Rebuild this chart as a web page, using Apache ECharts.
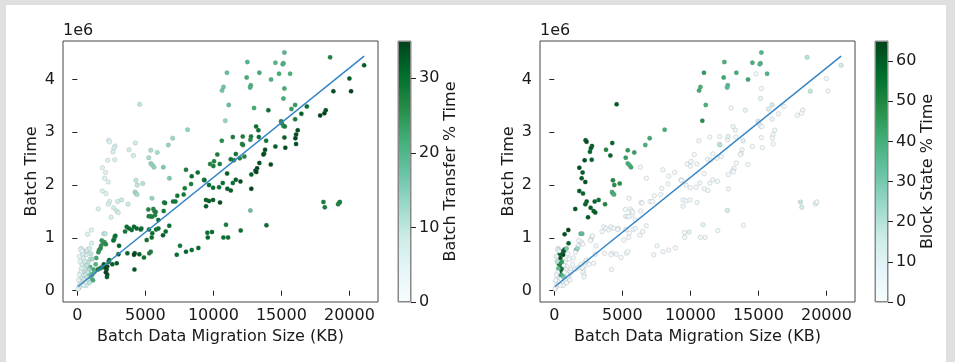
<!DOCTYPE html>
<html>
<head>
<meta charset="utf-8">
<script src="https://cdn.jsdelivr.net/npm/echarts@6/dist/echarts.min.js"></script>
<style>
  html, body { margin: 0; padding: 0; background: #e0e0e0; }
  #panel { position: absolute; left: 6px; top: 5px; width: 940px; height: 357px; background: #fff; }
  #chart { position: absolute; left: 0; top: 0; width: 955px; height: 362px; }
</style>
</head>
<body>
<div id="panel"></div>
<div id="chart"></div>
<script>
// batch data migration size (KB)
const sizeKB = [
  4580,8110,7010,6690,2300,2370,2770,2690,4260,3800,
  2620,5400,5880,5250,4120,2750,2230,5400,5520,5640,
  6320,1840,2080,2280,2010,4310,4410,4810,1840,2110,
  4240,4310,4390,3260,2970,2380,2280,3730,2670,2890,
  3010,1540,2480,1030,760,1050,1940,2050,5490,6770,
  15220,18580,12500,14560,15150,15100,11000,13380,14830,15640,
  12450,14240,20000,10740,10640,12750,12700,15220,18820,20120,
  21080,15150,11130,16010,12990,15740,16870,14040,16470,18260,
  18160,17850,10880,16010,14980,15030,15150,15250,
  16200,16080,16030,16080,15220,14560,15290,14220,13140,13310,
  13340,13880,13800,13730,13680,13380,13210,13090,13160,12790,
  12790,12720,13900,12010,10930,10740,11080,9560,9900,9590,
  7310,7550,7990,8410,8900,9460,9680,9980,10490,9460,
  11030,11280,11650,11990,11430,10690,10420,9980,11010,9320,
  9680,9760,10050,10000,10470,10290,10620,11430,11280,11500,
  11650,12110,12180,12160,12720,12770,12280,11940,7990,8410,
  8850,9340,7900,8360,7350,7820,7040,7210,6380,6450,
  5220,5590,5660,5250,5370,5710,5760,5490,5960,6350,
  4710,5270,5510,5100,5470,5790,5960,6300,6500,6760,
  4900,5290,5400,18090,18190,19170,19260,19300,
  3630,3800,4000,4170,4370,4660,3510,3070,3680,4220,
  4170,4560,4200,2900,2570,2700,2750,2800,2650,3020,
  2200,2150,2100,2200,2050,2180,1950,1800,1650,1500,
  1900,1750,1600,1550,2000,2100,1800,1700,1400,1200,
  1100,1000,1150,950,1350,900,1250,2300,2350,
  100,150,50,200,300,250,400,350,500,450,
  550,400,600,500,300,350,650,700,800,200,
  450,550,600,650,500,700,400,750,300,250,
  350,150,600,700,800,900,650,250,150,100,
  450,850,950,1000,900,1100,750,550
];
// batch time, in units of 1e6
const batchTime = [
  3.53,3.05,2.89,2.76,2.85,2.82,2.74,2.70,2.80,2.67,
  2.63,2.66,2.62,2.52,2.56,2.48,2.47,2.41,2.38,2.34,
  2.34,2.33,2.24,2.06,2.13,2.09,2.00,2.03,1.89,1.84,
  1.87,1.84,1.82,1.72,1.69,1.69,1.64,1.64,1.57,1.51,
  1.48,1.55,1.39,1.15,1.07,0.90,1.08,1.08,1.75,2.13,
  4.51,4.42,4.33,4.32,4.31,4.29,4.13,4.13,4.11,4.11,
  4.04,4.00,4.02,3.86,3.79,3.89,3.85,3.83,3.78,3.78,
  4.27,3.64,3.52,3.52,3.46,3.44,3.49,3.42,3.35,3.42,
  3.36,3.32,3.22,3.25,3.21,3.17,3.12,3.11,
  3.04,2.96,2.89,2.78,2.90,2.73,2.71,2.39,3.11,3.04,
  2.91,2.84,2.67,2.60,2.58,2.42,2.32,2.27,2.25,2.20,
  1.93,1.52,1.24,1.14,1.25,1.01,1.01,1.10,1.11,1.01,
  0.68,0.85,0.74,0.77,0.81,1.72,1.70,1.72,1.67,1.60,
  1.93,1.90,2.10,2.07,2.04,2.04,1.96,1.95,2.22,2.10,
  2.00,2.40,2.45,2.36,2.40,2.58,2.84,2.91,2.49,2.47,
  2.59,2.78,2.76,2.92,2.86,2.92,2.54,2.51,2.29,2.17,
  2.24,2.09,1.94,2.02,1.80,1.82,1.69,1.69,1.67,1.66,
  1.54,1.55,1.51,1.41,1.41,1.43,1.49,1.40,1.34,1.51,
  1.18,1.16,1.09,0.96,1.01,1.16,1.18,1.05,1.12,1.23,
  0.63,0.71,0.74,1.68,1.58,1.64,1.67,1.68,
  1.21,1.18,1.15,1.21,1.18,1.16,1.12,0.85,0.71,0.71,
  0.68,0.69,0.40,0.52,0.50,0.97,1.02,1.04,0.95,0.69,
  0.46,0.40,0.35,0.30,0.44,0.26,0.50,0.44,0.42,0.40,
  0.90,0.85,0.77,0.73,0.92,0.88,0.95,0.80,0.62,0.40,
  0.30,0.25,0.20,0.45,0.50,0.32,0.35,0.55,0.58,
  0.05,0.08,0.03,0.12,0.15,0.20,0.18,0.25,0.22,0.30,
  0.35,0.38,0.40,0.45,0.42,0.50,0.50,0.48,0.55,0.55,
  0.62,0.70,0.72,0.68,0.74,0.75,0.70,0.78,0.80,0.78,
  0.75,0.65,0.30,0.25,0.20,0.15,0.10,0.35,0.30,0.20,
  0.10,0.40,0.60,0.70,0.80,0.60,0.35,0.55
];
// batch transfer % of time (left colour)
const transferPct = [
  10,14,13,14,6,6,7,7,8,8,
  7,12,12,12,8,7,6,14,14,14,
  16,6,6,6,6,10,10,11,6,6,
  12,12,12,9,8,7,7,9,8,8,
  8,7,7,6,6,6,10,10,14,16,
  20,27,20,20,21,21,18,22,22,21,
  22,21,32,17,17,21,21,22,34,35,
  32,22,18,24,22,24,30,30,32,34,
  35,35,14,28,27,28,26,28,
  34,34,35,34,32,32,34,34,30,30,
  30,29,34,34,34,34,35,35,35,32,
  35,18,30,30,28,30,30,30,30,31,
  30,29,31,30,31,32,32,32,34,32,
  32,32,32,34,30,30,30,30,32,28,
  30,27,27,28,28,28,26,28,29,28,
  29,28,28,28,26,28,27,27,28,30,
  30,30,28,28,29,29,29,29,29,29,
  27,27,27,28,28,27,28,28,30,28,
  30,30,30,30,30,30,30,32,30,30,
  30,28,28,28,28,28,28,28,
  30,31,30,31,31,31,29,32,31,35,
  35,32,33,32,32,30,30,30,30,32,
  34,35,35,35,35,32,32,30,30,28,
  25,25,25,25,26,26,25,26,22,22,
  22,20,22,20,20,18,20,32,30,
  5,5,4,6,6,6,8,6,8,6,
  8,7,8,7,6,6,8,10,10,5,
  6,7,7,7,6,7,6,6,5,5,
  5,5,8,10,10,10,8,5,5,5,
  6,12,10,10,8,12,10,8
];
// block state % of time (right colour)
const blockPct = [
  60,40,42,40,62,63,60,60,58,50,
  58,45,44,44,58,58,62,40,40,42,
  3,63,60,62,60,50,48,48,60,58,
  40,42,40,55,58,60,58,50,60,60,
  60,62,60,65,62,58,35,35,3,3,
  38,20,40,40,38,38,45,40,3,38,
  42,42,3,40,42,36,36,3,18,3,
  15,8,40,15,3,12,3,8,3,3,
  3,3,48,5,12,8,3,3,
  3,3,3,3,3,3,3,3,5,5,
  3,10,3,3,3,3,3,3,3,3,
  3,15,3,3,10,3,3,3,10,3,
  3,3,3,3,3,3,3,3,3,3,
  3,3,3,3,3,3,3,3,3,3,
  3,3,3,3,3,3,3,3,3,3,
  3,3,20,3,3,10,3,3,3,3,
  3,3,3,3,3,3,3,3,3,3,
  3,3,3,3,3,3,3,3,3,3,
  3,3,3,3,3,3,3,3,3,3,
  3,3,3,18,15,3,3,3,
  3,3,3,3,3,3,3,3,3,3,
  3,3,3,3,3,3,3,3,3,3,
  3,3,3,3,3,3,3,3,3,3,
  3,3,30,3,3,3,5,25,3,3,
  3,3,3,3,3,3,3,3,3,
  5,3,3,3,3,3,3,3,3,40,
  55,60,58,55,35,50,60,3,3,20,
  62,64,65,65,64,62,60,60,15,10,
  8,10,40,30,3,3,3,3,3,3,
  3,3,3,3,30,3,3,45
];

// linear fit drawn over the points
const fitIntercept = 0.07;
const fitSlope = 0.0002075;

const xTicks = [0, 5000, 10000, 15000, 20000];
const yTicks = [0, 1, 2, 3, 4];
const transferTicks = [0, 10, 20, 30];
const blockTicks = [0, 10, 20, 30, 40, 50, 60];
const BUGN = ['#f7fcfd','#e5f5f9','#ccece6','#99d8c9','#66c2a4','#41ae76','#238b45','#006d2c','#00441b'];
const FONT = 'DejaVu Sans';

const panels = [
  { left: 63, cbLeft: 398, values: transferPct, max: 35, ticks: transferTicks, label: 'Batch Transfer % Time' },
  { left: 540, cbLeft: 875, values: blockPct, max: 65, ticks: blockTicks, label: 'Block State % Time' }
];

const n = Math.min(sizeKB.length, batchTime.length, transferPct.length, blockPct.length);
const xMin = Math.min(...sizeKB.slice(0, n));
const xMax = Math.max(...sizeKB.slice(0, n));
const fitLine = [xMin, xMax].map(x => [x, fitIntercept + fitSlope * x]);

const chart = echarts.init(document.getElementById('chart'), null, { renderer: 'canvas' });

const grid = [], xAxis = [], yAxis = [], series = [], visualMap = [], graphic = [];
const textStyle = { fontFamily: FONT, fontSize: 16, color: '#1a1a1a' };
const plain = v => String(v);

panels.forEach((p, i) => {
  const g = i * 2;
  grid.push({ left: p.left, top: 41, width: 315, height: 261, show: true, borderColor: '#444', borderWidth: 1, backgroundColor: '#fff' });
  grid.push({ left: p.cbLeft, top: 41, width: 13, height: 261, show: true, borderColor: '#888', borderWidth: 1 });

  xAxis.push({
    gridIndex: g, type: 'value', min: -1050, max: 22100,
    axisLine: { show: false },
    axisTick: { show: true, customValues: xTicks, length: 5, lineStyle: { color: '#222' } },
    axisLabel: { customValues: xTicks, margin: 6, formatter: plain, ...textStyle },
    splitLine: { show: false },
    name: 'Batch Data Migration Size (KB)', nameLocation: 'middle', nameGap: 27,
    nameTextStyle: textStyle
  });
  xAxis.push({ gridIndex: g + 1, type: 'category', data: ['cb'], show: false });

  yAxis.push({
    gridIndex: g, type: 'value', min: -0.214, max: 4.73,
    axisLine: { show: false },
    axisTick: { show: true, customValues: yTicks, length: 5, lineStyle: { color: '#222' } },
    axisLabel: { customValues: yTicks, margin: 8, formatter: plain, ...textStyle },
    splitLine: { show: false },
    name: 'Batch Time', nameLocation: 'middle', nameGap: 23,
    nameTextStyle: textStyle
  });
  yAxis.push({
    gridIndex: g + 1, type: 'value', position: 'right', min: 0, max: p.max,
    axisLine: { show: false },
    axisTick: { show: true, customValues: p.ticks, length: 5, lineStyle: { color: '#222' } },
    axisLabel: { customValues: p.ticks, margin: 8, formatter: plain, ...textStyle },
    splitLine: { show: false },
    name: p.label, nameLocation: 'middle', nameGap: 31, nameRotate: 90,
    nameTextStyle: textStyle
  });

  const pts = [];
  for (let k = 0; k < n; k++) pts.push([sizeKB[k], batchTime[k], p.values[k]]);

  visualMap.push({
    show: false, type: 'continuous', seriesIndex: series.length, dimension: 2,
    min: 0, max: p.max, inRange: { color: BUGN }
  });
  series.push({
    type: 'scatter', xAxisIndex: g, yAxisIndex: g, data: pts,
    symbol: 'circle', symbolSize: 4.5,
    itemStyle: { borderColor: 'rgba(120,120,120,0.45)', borderWidth: 0.5, opacity: 1 },
    silent: true
  });
  series.push({
    type: 'line', xAxisIndex: g, yAxisIndex: g, data: fitLine,
    symbol: 'none', lineStyle: { color: '#3485c6', width: 1.5 }, z: 5, silent: true
  });
  series.push({
    type: 'bar', xAxisIndex: g + 1, yAxisIndex: g + 1, data: [p.max],
    barWidth: '100%', silent: true,
    itemStyle: {
      color: new echarts.graphic.LinearGradient(0, 1, 0, 0,
        BUGN.map((c, j) => ({ offset: j / (BUGN.length - 1), color: c }))),
      borderColor: '#888', borderWidth: 1
    }
  });

  graphic.push({
    type: 'text', left: p.left, top: 23,
    style: { text: '1e6', font: '16px "DejaVu Sans"', fill: '#1a1a1a' }
  });
});

chart.setOption({
  animation: false,
  backgroundColor: 'transparent',
  grid, xAxis, yAxis, visualMap, series, graphic
});
</script>
</body>
</html>
